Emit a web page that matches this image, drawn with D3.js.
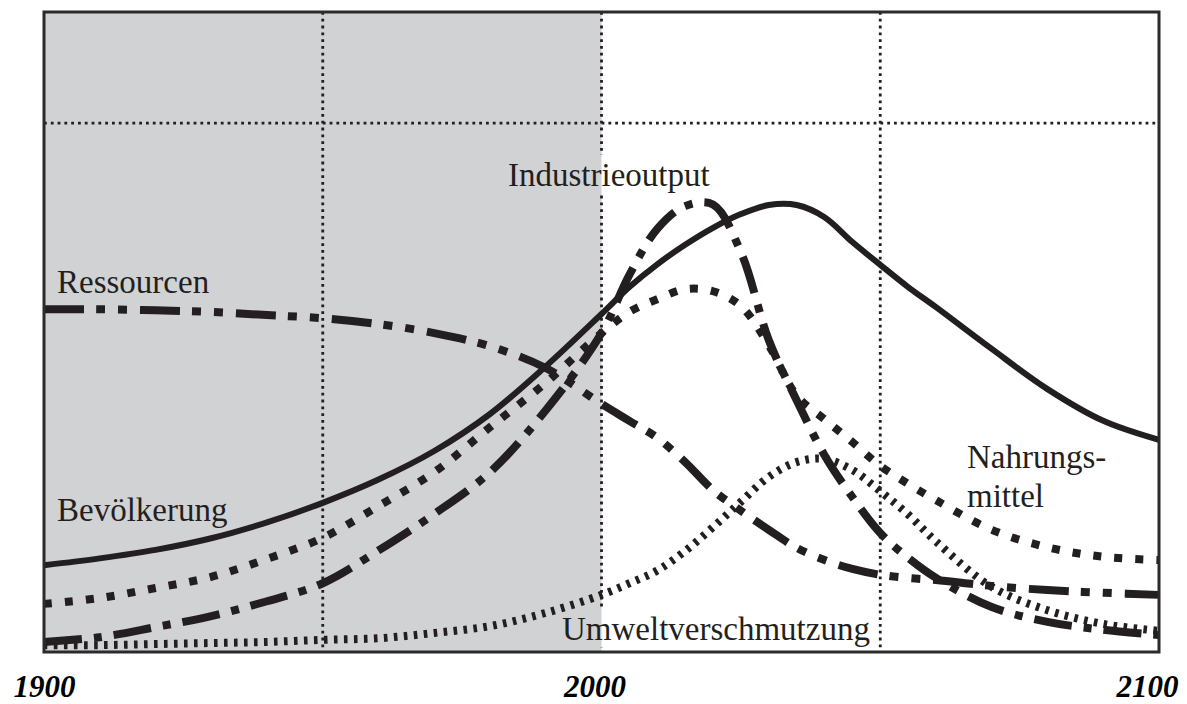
<!DOCTYPE html>
<html>
<head>
<meta charset="utf-8">
<script src="https://cdn.jsdelivr.net/npm/d3@7/dist/d3.min.js"></script>
<style>
  html, body { margin: 0; padding: 0; background: #fff; }
  svg { display: block; }
  .lbl { font-family: "Liberation Serif", "DejaVu Serif", serif; font-size: 33px; fill: #231f20; }
  .yr text { font-family: "Liberation Serif", "DejaVu Serif", serif; font-size: 31px; font-weight: bold; font-style: italic; fill: #000; }
</style>
</head>
<body>
<svg id="chart" width="1187" height="704"></svg>
<script>
// World3 standard run, arbitrary units (dotted reference line = 100)
var years = [1900, 1910, 1920, 1930, 1940, 1950, 1960, 1970, 1980, 1990, 2000, 2005, 2010, 2015,
             2020, 2025, 2030, 2035, 2040, 2045, 2050, 2055, 2060, 2070, 2080, 2090, 2100];

var bevoelkerung = [16.4, 17.7, 19.3, 21.5, 24.5, 28.2, 32.6, 38.0, 45.0, 54.0, 63.9, 69.0, 73.3, 77.0,
                    80.2, 82.8, 84.5, 84.5, 82.2, 77.5, 73.2, 69.0, 65.2, 57.3, 49.7, 43.7, 40.1];
var nahrungsmittel = [9.1, 10.2, 12.1, 14.2, 17.6, 21.6, 27.6, 34.0, 42.5, 50.9, 60.3, 64.3, 66.7, 68.6,
                      68.2, 65.4, 58.0, 48.5, 44.0, 39.7, 35.2, 31.8, 28.7, 23.1, 19.8, 18.0, 17.4];
var industrieoutput = [1.9, 2.8, 4.7, 6.8, 9.6, 13.0, 19.2, 26.1, 34.0, 45.7, 60.3, 71.3, 80.0, 84.3,
                       84.6, 75.6, 59.0, 47.6, 37.2, 29.3, 22.5, 17.8, 14.0, 8.5, 5.7, 4.2, 3.2];
var ressourcen = [64.8, 64.8, 64.6, 64.3, 63.7, 63.1, 62.0, 60.3, 57.8, 53.7, 46.9, 43.7, 40.5, 35.9,
                  30.6, 26.7, 23.1, 19.7, 17.4, 15.7, 14.6, 14.0, 13.6, 12.5, 11.7, 11.2, 10.8];
var umwelt = [1.3, 1.3, 1.5, 1.7, 1.9, 2.3, 2.6, 3.6, 4.9, 7.4, 10.8, 13.0, 15.4, 19.1,
              23.6, 28.4, 33.1, 35.9, 36.5, 34.4, 30.4, 26.0, 20.9, 12.3, 7.9, 5.3, 4.0];

var tickYears = [1900, 2000, 2100];
var gridYears = [1950, 2000, 2050];
var gridValues = [100];
var shadeYears = [1900, 2000];

(function () {
  'use strict';

  var ink = '#231f20';
  var svg = d3.select('#chart');

  var x = d3.scaleLinear().domain([1900, 2100]).range([44, 1159]);
  var y = d3.scaleLinear().domain([0, 121]).range([652, 12]);

  // Historical period shaded
  svg.append('rect')
    .attr('x', x(shadeYears[0]))
    .attr('y', y(121))
    .attr('width', x(shadeYears[1]) - x(shadeYears[0]))
    .attr('height', y(0) - y(121))
    .attr('fill', '#d1d2d4');

  var defs = svg.append('defs');
  var mask = defs.append('mask').attr('id', 'gridMask').attr('maskUnits', 'userSpaceOnUse');
  mask.append('rect').attr('x', 0).attr('y', 0).attr('width', 1187).attr('height', 704).attr('fill', '#fff');

  var grid = svg.append('g').attr('mask', 'url(#gridMask)')
    .attr('stroke', ink)
    .attr('stroke-width', 2.8)
    .attr('stroke-dasharray', '2.8,4');

  grid.selectAll('.vg')
    .data(gridYears)
    .enter()
    .append('line')
    .attr('x1', function (d) { return x(d); })
    .attr('x2', function (d) { return x(d); })
    .attr('y1', y(121))
    .attr('y2', y(0));

  grid.selectAll('.hg')
    .data(gridValues)
    .enter()
    .append('line')
    .attr('x1', x(1900))
    .attr('x2', x(2100))
    .attr('y1', function (d) { return y(d); })
    .attr('y2', function (d) { return y(d); });

  var series = [
    { name: 'umwelt', values: umwelt, dash: '3.6,6.4', width: 8 },
    { name: 'ressourcen', values: ressourcen, dash: '40,12,9,13,9,13', width: 8 },
    { name: 'industrie', values: industrieoutput, dash: '38,12,8,12', width: 8 },
    { name: 'nahrung', values: nahrungsmittel, dash: '8,13', width: 8 },
    { name: 'bevoelkerung', values: bevoelkerung, dash: null, width: 6 }
  ];

  var line = d3.line()
    .x(function (d, i) { return x(years[i]); })
    .y(function (d) { return y(d); })
    .curve(d3.curveCatmullRom.alpha(0.5));

  svg.append('g')
    .selectAll('path')
    .data(series)
    .enter()
    .append('path')
    .attr('d', function (s) { return line(s.values); })
    .attr('fill', 'none')
    .attr('stroke', ink)
    .attr('stroke-width', function (s) { return s.width; })
    .attr('stroke-dasharray', function (s) { return s.dash; })
    .attr('stroke-linecap', 'butt')
    .attr('stroke-linejoin', 'round');

  // Frame
  svg.append('rect')
    .attr('x', x(1900))
    .attr('y', y(121))
    .attr('width', x(2100) - x(1900))
    .attr('height', y(0) - y(121))
    .attr('fill', 'none')
    .attr('stroke', '#2b2b2b')
    .attr('stroke-width', 3);

  // Curve labels
  var labels = [
    { text: 'Industrieoutput', x: 508, y: 186 },
    { text: 'Ressourcen', x: 57, y: 293 },
    { text: 'Bevölkerung', x: 57, y: 521 },
    { text: 'Nahrungs-', x: 967, y: 468 },
    { text: 'mittel', x: 967, y: 507 },
    { text: 'Umweltverschmutzung', x: 562, y: 640 }
  ];

  var lbl = svg.append('g')
    .selectAll('text')
    .data(labels)
    .enter()
    .append('text')
    .attr('class', 'lbl')
    .attr('x', function (d) { return d.x; })
    .attr('y', function (d) { return d.y; })
    .text(function (d) { return d.text; });

  // Labels knock out the grid lines behind them
  lbl.each(function () {
    var b = this.getBBox();
    mask.append('rect')
      .attr('x', b.x)
      .attr('y', b.y - 2)
      .attr('width', b.width - 4)
      .attr('height', b.height + 2)
      .attr('fill', '#000');
  });

  // Year axis
  var axis = d3.axisBottom(x).tickValues(tickYears).tickSize(0).tickPadding(0).tickFormat(d3.format('d'));
  var ax = svg.append('g')
    .attr('class', 'yr')
    .attr('transform', 'translate(0,' + 697 + ')')
    .call(axis);
  ax.select('.domain').remove();
  var shift = [0, -7, -12];
  ax.selectAll('.tick text')
    .attr('y', 0)
    .attr('dy', 0)
    .attr('dx', function (d, i) { return shift[i]; });
})();
</script>
</body>
</html>
